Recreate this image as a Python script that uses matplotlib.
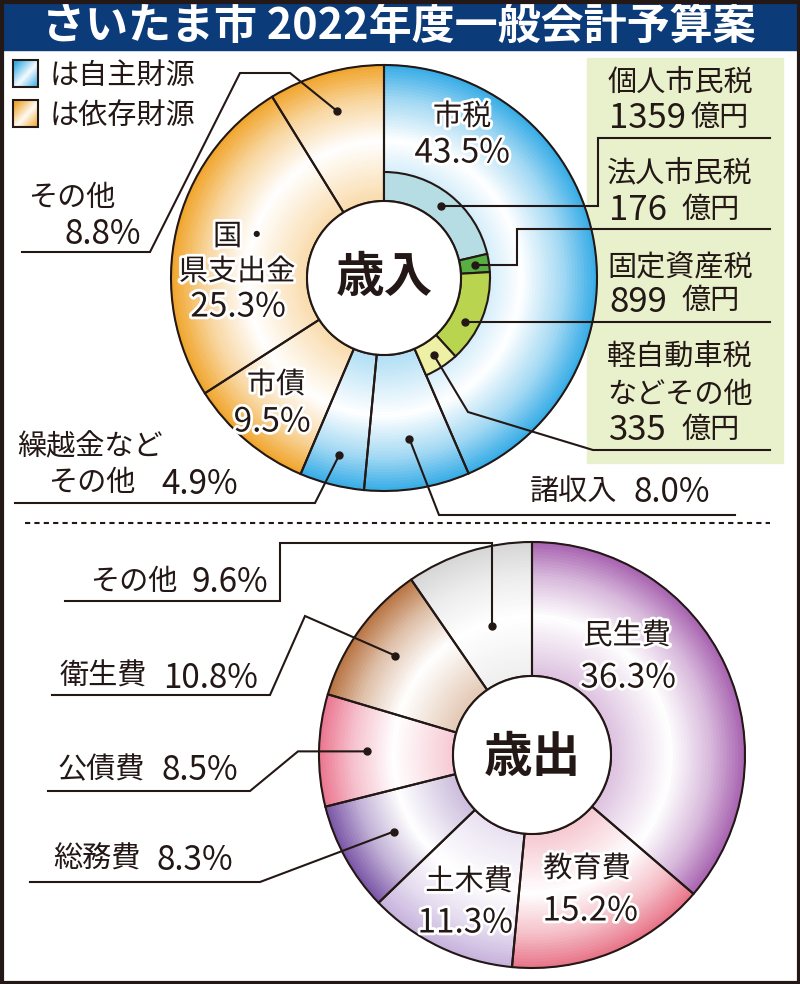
import numpy as np
import matplotlib
matplotlib.use("Agg")
import matplotlib.pyplot as plt
import matplotlib.patheffects as pe
from matplotlib.patches import Rectangle, Circle
from matplotlib.colors import to_rgb

plt.rcParams['font.family'] = ['Noto Sans CJK JP', 'DejaVu Sans']

# 歳入 (revenue), clockwise from 12 o'clock
rev_names = ["市税", "諸収入", "繰越金などその他", "市債", "国・県支出金", "その他"]
rev_pct = [43.5, 8.0, 4.9, 9.5, 25.3, 8.8]
rev_colors = ["#36ace6", "#36ace6", "#36ace6", "#f0a52c", "#f0a52c", "#f0a52c"]

# 市税 breakdown (億円)
tax_names = ["個人市民税", "法人市民税", "固定資産税", "軽自動車税などその他"]
tax_oku = [1359, 176, 899, 335]
tax_colors = ["#b6dce4", "#58ad43", "#b9d44e", "#eef0a6"]

# 歳出 (expenditure), clockwise from 12 o'clock
exp_names = ["民生費", "教育費", "土木費", "総務費", "公債費", "衛生費", "その他"]
exp_pct = [36.3, 15.2, 11.3, 8.3, 8.5, 10.8, 9.6]
exp_colors = ["#a863b0", "#e87488", "#c6b2dc", "#7a56a6", "#ea7690", "#b87442", "#d6d6d6"]

INK = "#231815"
NAVY = "#0b3b78"

fig = plt.figure(figsize=(8, 9.84), dpi=100)
ax = fig.add_axes([0, 0, 1, 1])


def mix(c, f):
    c = np.array(to_rgb(c))
    return tuple(1 - f * (1 - c))


def gradient_donut(center, r_in, r_out, values, colors, n=45):
    # white band in the middle, full colour at the outer edge
    edges = np.linspace(r_in, r_out, n + 1)
    for i in range(n):
        t = (edges[i] + edges[i + 1]) / 2
        t = (t - r_in) / (r_out - r_in)
        f = np.interp(t, [0, 0.45, 0.75, 1], [0.4, 0.0, 0.45, 1.0])
        ax.pie(values, center=center, radius=edges[i + 1] + 0.6,
               colors=[mix(c, f) for c in colors], startangle=-90, counterclock=True,
               wedgeprops=dict(width=edges[i + 1] - edges[i] + 1.2, linewidth=0))
    ax.pie(values, center=center, radius=r_out, startangle=-90, counterclock=True,
           wedgeprops=dict(width=r_out - r_in, facecolor="none", edgecolor=INK, linewidth=1.5))


def dot_at(center, values, idx, r, pos=0.5, frac_total=100.0):
    cum = np.cumsum([0] + list(values))
    a = np.deg2rad((cum[idx] + pos * values[idx]) / frac_total * 360)
    return center[0] + r * np.sin(a), center[1] - r * np.cos(a)


def leader(points, dot):
    pts = list(points) + [dot]
    xs, ys = zip(*pts)
    ax.plot(xs, ys, color=INK, lw=1.5, solid_joinstyle="miter")
    ax.plot(*dot, "o", color=INK, ms=5)


halo = [pe.withStroke(linewidth=4, foreground="white")]


def label(x, y, s, ha="center", size=21, effects=True):
    ax.text(x, y, s, ha=ha, va="center", fontsize=size, color=INK,
            path_effects=halo if effects else None, zorder=10)


def pair(x0, x1, y, name, num, size=21, numsize=24):
    # name at left edge, number flush to right edge
    label(x0, y, name, ha="left", size=size, effects=False)
    ax.text(x1, y + 1, num, ha="right", va="center", fontsize=numsize, color=INK, zorder=10)


# ---------- frame and title ----------
ax.add_patch(Rectangle((0, 0), 800, 50, color=NAVY, zorder=0))
ax.text(399, 26, "さいたま市 2022年度一般会計予算案", ha="center", va="center",
        fontsize=31, fontweight="bold", color="white")
ax.add_patch(Rectangle((587, 58), 196, 405, color="#e9f0cc", zorder=0))

# ---------- legend ----------
grad = np.linspace(0, 1, 30)
gx, gy = np.meshgrid(grad, grad)
g = np.clip(1 - np.abs((gx + gy) / 2 - 0.55) * 2.2, 0, 1)
for y0, c in [(60, "#36ace6"), (100, "#f0a52c")]:
    img = np.array([[mix(c, 1 - v * 0.95) for v in row] for row in g])
    ax.imshow(img, extent=(13, 38, y0 + 27, y0), zorder=2)
    ax.add_patch(Rectangle((13, y0), 25, 27, fill=False, ec=INK, lw=1.5, zorder=3))
label(50, 76, "は自主財源", ha="left", effects=False)
label(50, 116, "は依存財源", ha="left", effects=False)

# ---------- 歳入 ----------
c1 = (384, 278)
gradient_donut(c1, 77, 213, rev_pct, rev_colors)
tax_frac = [v / sum(tax_oku) * rev_pct[0] / 100 for v in tax_oku]
ax.pie(tax_frac, normalize=False, center=c1, radius=106, colors=tax_colors,
       startangle=-90, counterclock=True,
       wedgeprops=dict(width=29, edgecolor=INK, linewidth=1.5))
ax.add_patch(Circle(c1, 77, fc="white", ec=INK, lw=1.5, zorder=5))
ax.text(c1[0], c1[1], "歳入", ha="center", va="center", fontsize=35,
        fontweight="bold", color=INK, zorder=6)

tax_pct = [v * 100 for v in tax_frac]
d = [dot_at(c1, tax_pct, 0, 92), dot_at(c1, tax_pct, 1, 92),
     dot_at(c1, tax_pct, 2, 92, pos=0.62), dot_at(c1, tax_pct, 3, 92)]
leader([(770, 138), (598, 138), (598, d[0][1])], d[0])
leader([(770, 229), (517, 229), (517, d[1][1])], d[1])
leader([(770, d[2][1])], d[2])
leader([(770, 450), (593, 450), (468, 412)], d[3])

leader([(22, 252), (150, 252), (240, 73), (290, 73)], dot_at(c1, rev_pct, 5, 174))
leader([(15, 503), (315, 503)], dot_at(c1, rev_pct, 2, 183))
leader([(735, 515), (439, 515)], dot_at(c1, rev_pct, 1, 163))

label(462, 117, "市税")
label(462, 153, "43.5%", size=24)
label(213, 237, "国・", ha="left")
label(237, 272, "県支出金")
label(238, 307, "25.3%", size=24)
label(276, 385, "市債")
label(272, 422, "9.5%", size=24)
label(17, 447, "繰越金など", ha="left", effects=False)
pair(48, 238, 483, "その他", "4.9%")
pair(530, 710, 492, "諸収入", "8.0%")
label(115, 198, "その他", ha="right", effects=False)
ax.text(141, 234, "8.8%", ha="right", va="center", fontsize=24, color=INK)

box_names = [(83, "個人市民税"), (173, "法人市民税"), (268, "固定資産税"),
             (358, "軽自動車税"), (395, "などその他")]
for y, s in box_names:
    label(607, y, s, ha="left", effects=False)
box_amounts = [(119, "1359", 690), (211, "176", 681), (302, "899", 681), (431, "335", 681)]
for y, num, xe in box_amounts:
    ax.text(609, y, num, ha="left", va="center", fontsize=25, color=INK)
    label(xe, y - 1, "億円", ha="left", effects=False)

ax.plot([25, 770], [523, 523], color=INK, lw=1.5, ls=(0, (2.5, 2)))

# ---------- 歳出 ----------
c2 = (532, 755)
gradient_donut(c2, 79, 213, exp_pct, exp_colors)
ax.add_patch(Circle(c2, 79, fc="white", ec=INK, lw=1.5, zorder=5))
ax.text(c2[0], c2[1] + 2, "歳出", ha="center", va="center", fontsize=35,
        fontweight="bold", color=INK, zorder=6)

d6 = dot_at(c2, exp_pct, 6, 135)
leader([(65, 601), (280, 601), (280, 543), (d6[0], 543)], d6)
leader([(52, 695), (270, 695), (305, 616)], dot_at(c2, exp_pct, 5, 169))
d4 = dot_at(c2, exp_pct, 4, 165)
leader([(48, 791), (250, 791), (298, d4[1])], d4)
leader([(30, 882), (260, 882)], dot_at(c2, exp_pct, 3, 158))

pair(90, 268, 582, "その他", "9.6%")
pair(60, 258, 677, "衛生費", "10.8%")
pair(58, 238, 770, "公債費", "8.5%")
pair(53, 233, 860, "総務費", "8.3%")
label(627, 636, "民生費")
label(628, 678, "36.3%", size=24)
label(587, 869, "教育費")
label(590, 911, "15.2%", size=24)
label(469, 882, "土木費")
label(465, 923, "11.3%", size=24)

ax.add_patch(Rectangle((1.5, 1.5), 797, 981, fill=False, ec=INK, lw=3, zorder=20))
ax.set_xlim(0, 800)
ax.set_ylim(984, 0)
ax.set_aspect("auto")
ax.axis("off")
fig.savefig("out.png", dpi=100)
